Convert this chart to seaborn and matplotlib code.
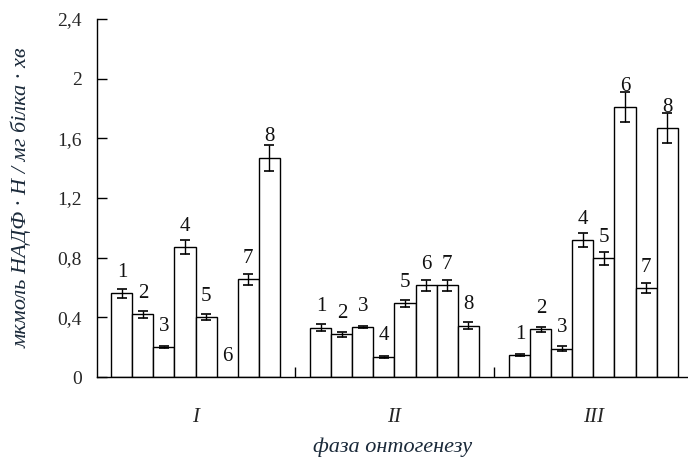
import matplotlib
matplotlib.use("Agg")
import matplotlib.pyplot as plt
import seaborn as sns
import numpy as np
import pandas as pd

phases = ["I", "II", "III"]
variants = ["1", "2", "3", "4", "5", "6", "7", "8"]
values_I = [0.56, 0.42, 0.20, 0.87, 0.40, 0.00, 0.655, 1.47]
values_II = [0.33, 0.285, 0.333, 0.136, 0.494, 0.615, 0.615, 0.344]
values_III = [0.145, 0.32, 0.19, 0.918, 0.795, 1.81, 0.594, 1.67]
err_I = [0.03, 0.024, 0.005, 0.048, 0.021, 0.0, 0.038, 0.088]
err_II = [0.022, 0.02, 0.006, 0.006, 0.025, 0.037, 0.036, 0.022]
err_III = [0.006, 0.018, 0.017, 0.048, 0.045, 0.103, 0.033, 0.10]
y_ticks = [0, 0.4, 0.8, 1.2, 1.6, 2.0, 2.4]
y_tick_labels = ["0", "0,4", "0,8", "1,2", "1,6", "2", "2,4"]
y_label = "мкмоль НАДФ · Н / мг білка · хв"
x_label = "фаза онтогенезу"

sns.set_style("white")
plt.rcParams["font.family"] = ["Liberation Serif", "DejaVu Serif"]

all_vals = [values_I, values_II, values_III]
all_errs = [err_I, err_II, err_III]
rows = []
for p, vals, errs in zip(phases, all_vals, all_errs):
    for v, val, e in zip(variants, vals, errs):
        rows.append({"phase": p, "variant": v, "value": val, "err": e})
df = pd.DataFrame(rows)

fig = plt.figure(figsize=(6.88, 4.57), dpi=100)
ax = fig.add_axes([97 / 688, 1 - 377 / 457, 1 - 97 / 688, (377 - 19) / 457])

sns.barplot(data=df, x="phase", y="value", hue="variant", order=phases,
            hue_order=variants, palette=["white"] * 8, edgecolor="black",
            linewidth=1.0, width=0.845, errorbar=None, legend=False, ax=ax,
            saturation=1)

bar_containers = list(ax.containers)
for ci, cont in enumerate(bar_containers):
    v = variants[ci]
    for pi, bar in enumerate(cont):
        sub = df[(df.phase == phases[pi]) & (df.variant == v)].iloc[0]
        xc = bar.get_x() + bar.get_width() / 2
        h = sub.value
        if sub.err > 0:
            ax.errorbar(xc, h, yerr=sub.err, fmt="none", ecolor="black",
                        elinewidth=1.0, capsize=3.3, capthick=1.2, zorder=5)
        ax.annotate(v, (xc, h), xytext=(0, 15), textcoords="offset points",
                    ha="center", va="center", fontsize=15, color="#111111")

ax.set_ylim(0, 2.4)
ax.set_xlim(-0.495, 2.475)
ax.set_yticks(y_ticks)
ax.set_yticklabels(y_tick_labels, fontsize=14)
ax.set_xticks([0, 1, 2])
ax.set_xticklabels(phases, fontsize=15, style="italic")
ax.tick_params(axis="x", which="major", bottom=False, length=0, pad=22)
ax.set_xticks([0.5, 1.5], minor=True)
ax.tick_params(axis="x", which="minor", bottom=True, direction="in", length=7, width=1, color="black")
ax.tick_params(axis="y", left=True, direction="in", length=7, width=1, pad=11, color="black")

for s in ["top", "right"]:
    ax.spines[s].set_visible(False)
for s in ["left", "bottom"]:
    ax.spines[s].set_color("black")
    ax.spines[s].set_linewidth(1.0)

ax.set_ylabel(y_label, fontsize=16, style="italic", color="#1b2a3a", labelpad=18)
ax.set_xlabel(x_label, fontsize=16, style="italic", color="#1b2a3a", labelpad=8)

fig.savefig("out.png", dpi=100)
